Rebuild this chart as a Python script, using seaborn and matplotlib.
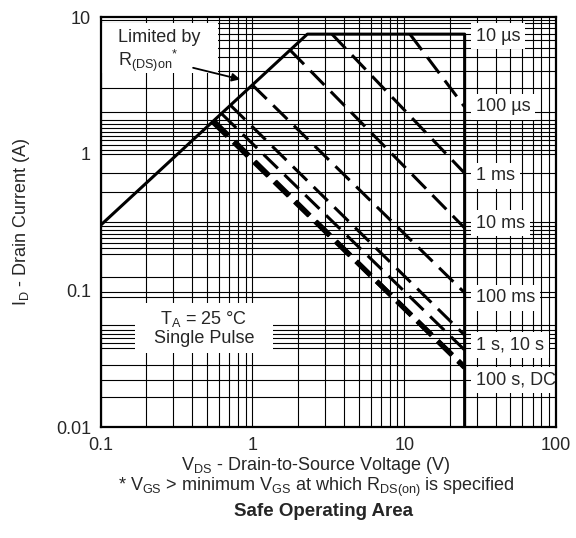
import matplotlib
matplotlib.use('Agg')
import matplotlib.pyplot as plt
import seaborn as sns
from matplotlib.patches import Rectangle
from matplotlib.ticker import LogLocator, NullFormatter

# solid boundary: R_DS(on) limit, current limit, V_DS max
limit_v = [0.1, 2.3, 25, 25]
limit_i = [0.3, 7.5, 7.5, 0.01]

# pulse curves (start, end)
pulse_names = ['100 µs', '1 ms', '10 ms', '100 ms', '1 s', '10 s', '100 s', 'DC']
pulse_v = [[10.9, 25], [3.34, 25], [1.77, 25], [1.0, 25],
           [0.72, 25], [0.63, 25], [0.55, 25], [0.56, 25]]
pulse_i = [[7.5, 2.2], [7.5, 0.72], [5.73, 0.286], [3.18, 0.096],
           [2.25, 0.047], [1.95, 0.0366], [1.70, 0.0275], [1.72, 0.0272]]
thick = ['100 s', 'DC']

end_labels = ['10 µs', '100 µs', '1 ms', '10 ms', '100 ms', '1 s, 10 s', '100 s, DC']
end_label_i = [7.26, 2.2, 0.687, 0.311, 0.088, 0.040, 0.0221]

x_ticks = [0.1, 1, 10, 100]
x_ticklabels = ['0.1', '1', '10', '100']
y_ticks = [0.01, 0.1, 1, 10]
y_ticklabels = ['0.01', '0.1', '1', '10']

# horizontal rulings of the printed graph paper (irregular in the original)
h_grid = [9.51, 9.04, 8.31, 7.51, 6.79, 5.93, 5.10, 4.03, 3.02, 2.02,
          1.76, 1.65, 1.54, 1.44, 1.35, 1.26, 1.16, 1.06, 1.0,
          0.722, 0.525, 0.3166, 0.296, 0.2765, 0.2586, 0.2416, 0.2222, 0.2042, 0.1846,
          0.1253, 0.0973, 0.0895,
          0.0558, 0.0513, 0.0480, 0.0449, 0.0412, 0.0379, 0.0285, 0.0221, 0.0166]

sns.set_style('white')
plt.rcParams['font.family'] = ['Liberation Sans', 'DejaVu Sans']
plt.rcParams['mathtext.fontset'] = 'custom'
plt.rcParams['mathtext.rm'] = 'Liberation Sans'
plt.rcParams['mathtext.it'] = 'Liberation Sans:italic'
plt.rcParams['mathtext.bf'] = 'Liberation Sans:bold'

fig = plt.figure(figsize=(5.76, 5.38), dpi=100)
ax = fig.add_axes([0.1748, 0.2063, 0.7905, 0.762])
ax.set_xscale('log')
ax.set_yscale('log')
ax.set_xlim(0.1, 100)
ax.set_ylim(0.01, 10)
ax.set_axisbelow(True)

# grid
ax.xaxis.set_minor_locator(LogLocator(base=10, subs=range(2, 10)))
ax.xaxis.set_minor_formatter(NullFormatter())
ax.yaxis.set_minor_formatter(NullFormatter())
ax.grid(True, which='both', axis='x', color='black', lw=0.8)
for yv in h_grid:
    ax.axhline(yv, color='black', lw=0.8, zorder=0.5)

# curves
sns.lineplot(x=limit_v, y=limit_i, ax=ax, color='black', lw=2.2,
             sort=False, estimator=None, zorder=3)
for name, v, i in zip(pulse_names, pulse_v, pulse_i):
    if name in thick:
        lw, ls = 3.6, (0, (4.0, 1.7))
    else:
        lw, ls = 2.2, (0, (6.5, 3.0))
    sns.lineplot(x=v, y=i, ax=ax, color='black', lw=lw, linestyle=ls,
                 sort=False, estimator=None, zorder=3)

# end-of-curve labels
for lab, yv in zip(end_labels, end_label_i):
    ax.text(29.7, yv, lab, fontsize=13, ha='left', va='center', zorder=4,
            bbox=dict(boxstyle='square,pad=0.25', fc='white', ec='none'))

# white panels behind the two notes
ax.add_patch(Rectangle((0.003, 0.863), 0.255, 0.122, transform=ax.transAxes,
                       fc='white', ec='none', zorder=3.5))
ax.add_patch(Rectangle((0.075, 0.180), 0.303, 0.122, transform=ax.transAxes,
                       fc='white', ec='none', zorder=3.5))

ax.text(0.13, 5.6, 'Limited by\nR$\\mathregular{_{(DS)on}}$$\\mathregular{^{*}}$',
        fontsize=13, ha='left', va='center', linespacing=1.1, zorder=4)
ax.annotate('', xy=(0.866, 3.46), xytext=(0.39, 4.3), zorder=5,
            arrowprops=dict(arrowstyle='-|>', color='black', lw=1.3, mutation_scale=12))

ax.text(0.479, 0.053, 'T$\\mathregular{_A}$ = 25 °C\nSingle Pulse', fontsize=13,
        ha='center', va='center', linespacing=1.1, zorder=4)

# ticks and spines
ax.set_xticks(x_ticks, labels=x_ticklabels)
ax.set_yticks(y_ticks, labels=y_ticklabels)
ax.tick_params(which='both', direction='in', length=5, width=0.8, labelsize=13, pad=7)
for sp in ax.spines.values():
    sp.set_color('black')
    sp.set_linewidth(1.6)
    sp.set_zorder(5)

fig.text(22 / 576, 1 - 222 / 538, 'I$\\mathregular{_D}$ - Drain Current (A)',
         rotation=90, ha='center', va='center', fontsize=13)
fig.text(316 / 576, 1 - 466 / 538, 'V$\\mathregular{_{DS}}$ - Drain-to-Source Voltage (V)',
         ha='center', va='center', fontsize=13)
fig.text(316 / 576, 1 - 487 / 538,
         '* V$\\mathregular{_{GS}}$ > minimum V$\\mathregular{_{GS}}$ at which R$\\mathregular{_{DS(on)}}$ is specified',
         ha='center', va='center', fontsize=13)
fig.text(323 / 576, 1 - 512 / 538, 'Safe Operating Area', ha='center', va='center',
         fontsize=13.5, fontweight='bold')

fig.savefig('out.png', dpi=100)
